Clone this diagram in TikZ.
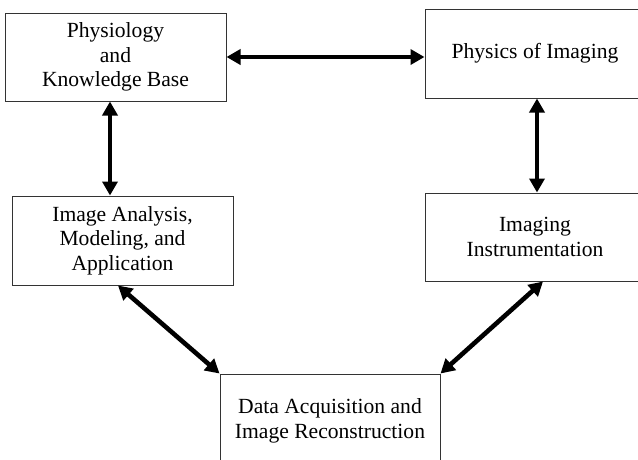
\documentclass[tikz,border=0pt]{standalone}
\usepackage{fontspec}
\setmainfont{Liberation Serif}
\usetikzlibrary{arrows.meta}

\tikzset{
  blockbox/.style={draw=black!80, line width=1pt, align=center, inner sep=0pt,
    font=\fontsize{21.6}{24.7}\selectfont},
  link/.style={line width=4.6pt, {Triangle[length=14pt,width=15pt]}-{Triangle[length=14pt,width=15pt]}}
}

\begin{document}
\begin{tikzpicture}[x=1pt, y=-1pt]
\useasboundingbox (0,0) rectangle (638,459);

% Blocks
\node[blockbox, minimum width=221pt, minimum height=88pt] (physio) at (115.5,57) {Physiology\\and\\Knowledge Base};
\node[blockbox, minimum width=220pt, minimum height=89pt] (physics) at (535,53.5) {Physics of Imaging};
\node[blockbox, minimum width=221pt, minimum height=89pt] (analysis) at (122.5,240.5) {Image Analysis,\\Modeling, and\\Application};
\node[blockbox, minimum width=220pt, minimum height=88pt] (instr) at (535,237) {Imaging\\Instrumentation};
\node[blockbox, minimum width=220pt, minimum height=94pt] (recon) at (330,421) {Data Acquisition and\\Image Reconstruction};

% Links
\draw[link] (physio.east) -- (physio.east -| physics.west);
\draw[link] ([xshift=-5.5pt]physio.south) -- ([xshift=-5.5pt]physio.south |- analysis.north);
\draw[link] ([xshift=2pt]physics.south) -- ([xshift=2pt]physics.south |- instr.north);
\draw[link] ([xshift=-4.5pt]analysis.south) -- (recon.north west);
\draw[link] ([xshift=8pt]instr.south) -- (recon.north east);

\end{tikzpicture}
\end{document}
